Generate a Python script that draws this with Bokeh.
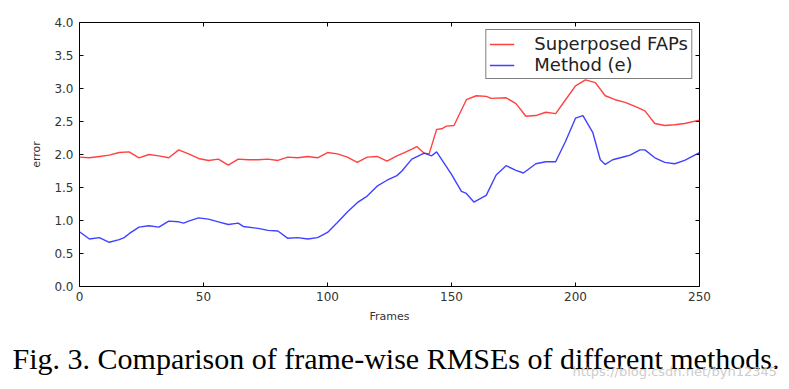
from bokeh.plotting import figure
from bokeh.layouts import column
from bokeh.models import FixedTicker, Legend, LegendItem, Range1d, Div
from bokeh.embed import file_html
from bokeh.resources import INLINE

# ---- data ----
red_frames = [0, 4, 8, 12, 16, 20, 24, 28, 32, 36, 40, 44, 48, 52, 56, 60, 64, 68, 72, 76,
              80, 84, 88, 92, 96, 100, 104, 108, 112, 116, 120, 124, 128, 131, 134, 136, 139,
              141, 144, 146, 148, 151, 156, 160, 164, 166, 172, 176, 180, 184, 188, 192, 196,
              200, 204, 208, 212, 216, 220, 224, 228, 232, 236, 240, 244, 250]
red_err = [1.96, 1.95, 1.97, 1.99, 2.03, 2.04, 1.95, 2.00, 1.98, 1.95, 2.07, 2.01, 1.94, 1.91,
           1.93, 1.84, 1.93, 1.92, 1.92, 1.93, 1.91, 1.96, 1.95, 1.97, 1.95, 2.03, 2.01, 1.96,
           1.88, 1.96, 1.97, 1.90, 1.98, 2.03, 2.08, 2.12, 2.02, 2.01, 2.38, 2.39, 2.43, 2.44,
           2.83, 2.89, 2.88, 2.85, 2.86, 2.77, 2.58, 2.59, 2.64, 2.62, 2.83, 3.04, 3.13, 3.09,
           2.89, 2.83, 2.79, 2.73, 2.66, 2.47, 2.44, 2.45, 2.47, 2.52]

blue_frames = [0, 4, 8, 12, 16, 18, 20, 24, 28, 32, 36, 40, 42, 44, 48, 52, 56, 60, 64, 66,
               72, 76, 80, 84, 88, 92, 96, 100, 104, 108, 112, 116, 120, 124, 128, 130, 134,
               139, 142, 144, 150, 154, 156, 159, 164, 168, 172, 176, 179, 184, 188, 192, 196,
               200, 203, 207, 210, 212, 215, 220, 222, 226, 228, 232, 236, 240, 244, 250]
blue_err = [0.83, 0.72, 0.74, 0.67, 0.71, 0.74, 0.80, 0.90, 0.92, 0.90, 0.99, 0.98, 0.96, 0.99,
            1.04, 1.02, 0.98, 0.94, 0.96, 0.91, 0.88, 0.85, 0.84, 0.73, 0.74, 0.72, 0.74, 0.82,
            0.97, 1.13, 1.27, 1.37, 1.52, 1.61, 1.68, 1.75, 1.93, 2.02, 1.98, 2.04, 1.70, 1.44,
            1.41, 1.28, 1.38, 1.69, 1.83, 1.76, 1.72, 1.86, 1.89, 1.89, 2.20, 2.55, 2.59, 2.33,
            1.92, 1.85, 1.92, 1.97, 1.99, 2.07, 2.07, 1.95, 1.88, 1.86, 1.91, 2.03]

x_ticks = [0, 50, 100, 150, 200, 250]
y_ticks = [0.0, 0.5, 1.0, 1.5, 2.0, 2.5, 3.0, 3.5, 4.0]
y_tick_labels = ["0.0", "0.5", "1.0", "1.5", "2.0", "2.5", "3.0", "3.5", "4.0"]
series_names = ["Superposed FAPs", "Method (e)"]
x_label = "Frames"
y_label = "error"
caption = "Fig. 3. Comparison of frame-wise RMSEs of different methods."
watermark = "https://blog.csdn.net/byn12345"

X_MIN, X_MAX, Y_MIN, Y_MAX = 0, 250, 0.0, 4.0

# ---- layout constants (pixels) ----
W = 785
FRAME_L, FRAME_T, FRAME_W, FRAME_H = 79, 22, 620, 265
H1 = 325
H2 = 60
TICK_PX = 4

# ---- main figure ----
p = figure(width=W, height=H1, output_backend="svg", toolbar_location=None,
           x_range=Range1d(X_MIN, X_MAX), y_range=Range1d(Y_MIN, Y_MAX),
           min_border_left=FRAME_L, min_border_right=W - FRAME_L - FRAME_W,
           min_border_top=FRAME_T, min_border_bottom=H1 - FRAME_T - FRAME_H)
p.background_fill_color = "white"
p.border_fill_color = "white"
p.outline_line_color = "black"
p.outline_line_width = 1
p.xgrid.visible = False
p.ygrid.visible = False

tick_font = "DejaVu Sans"
tick_color = "#333333"

def style_axis(ax):
    ax.axis_line_color = None
    ax.major_tick_in = TICK_PX
    ax.major_tick_out = 0
    ax.major_tick_line_color = "black"
    ax.minor_tick_line_color = None
    ax.major_label_text_font = tick_font
    ax.major_label_text_color = tick_color
    ax.major_label_text_font_size = "12px"
    ax.axis_label_text_font = tick_font
    ax.axis_label_text_font_style = "normal"
    ax.axis_label_text_font_size = "11px"
    ax.axis_label_text_color = tick_color

xa = p.xaxis[0]
xa.ticker = FixedTicker(ticks=x_ticks)
style_axis(xa)
xa.major_label_standoff = 5
xa.axis_label = x_label
xa.axis_label_standoff = 6

ya = p.yaxis[0]
ya.ticker = FixedTicker(ticks=y_ticks)
ya.major_label_overrides = {t: l for t, l in zip(y_ticks, y_tick_labels)}
style_axis(ya)
ya.major_label_standoff = 6
ya.axis_label = y_label
ya.axis_label_standoff = 8

# inside tick marks on the top and right edges (matplotlib classic style)
dx = TICK_PX * (X_MAX - X_MIN) / FRAME_W
dy = TICK_PX * (Y_MAX - Y_MIN) / FRAME_H
p.segment(x0=x_ticks, y0=[Y_MAX] * len(x_ticks), x1=x_ticks, y1=[Y_MAX - dy] * len(x_ticks),
          line_color="black", line_width=1)
p.segment(x0=[X_MAX] * len(y_ticks), y0=y_ticks, x1=[X_MAX - dx] * len(y_ticks), y1=y_ticks,
          line_color="black", line_width=1)

r1 = p.line(red_frames, red_err, line_color="#ff2020", line_width=1.4, line_alpha=0.85)
r2 = p.line(blue_frames, blue_err, line_color="#2020ff", line_width=1.4, line_alpha=0.85)

legend = Legend(items=[LegendItem(label=series_names[0], renderers=[r1]),
                       LegendItem(label=series_names[1], renderers=[r2])],
                location="top_right", margin=7, padding=3, spacing=0,
                label_height=16, glyph_height=16, glyph_width=25, label_standoff=20,
                label_text_font=tick_font, label_text_font_size="18px",
                label_text_color="#222222",
                border_line_color="black", border_line_width=1,
                background_fill_color="white", background_fill_alpha=1.0)
p.add_layout(legend, "center")

# ---- caption strip (HTML, not clipped by a plot frame) ----
html = (
    f'<div style="position:relative;width:{W}px;height:{H2}px;">'
    f'<span style="position:absolute;left:7px;width:778px;top:19px;text-align:center;'
    f"font-family:'Liberation Serif';font-size:30px;line-height:30px;white-space:nowrap;"
    f'color:#000000;">{caption}</span>'
    f'<span style="position:absolute;right:8px;top:40px;'
    f"font-family:'DejaVu Sans';font-size:13px;line-height:13px;white-space:nowrap;"
    f'color:#c8c8c8;opacity:0.9;">{watermark}</span>'
    f'</div>'
)
cap = Div(text=html, width=W, height=H2, styles={"margin": "0px", "padding": "0px"})

layout = column(p, cap, spacing=0)
open("out.html", "w").write(file_html(layout, INLINE))
